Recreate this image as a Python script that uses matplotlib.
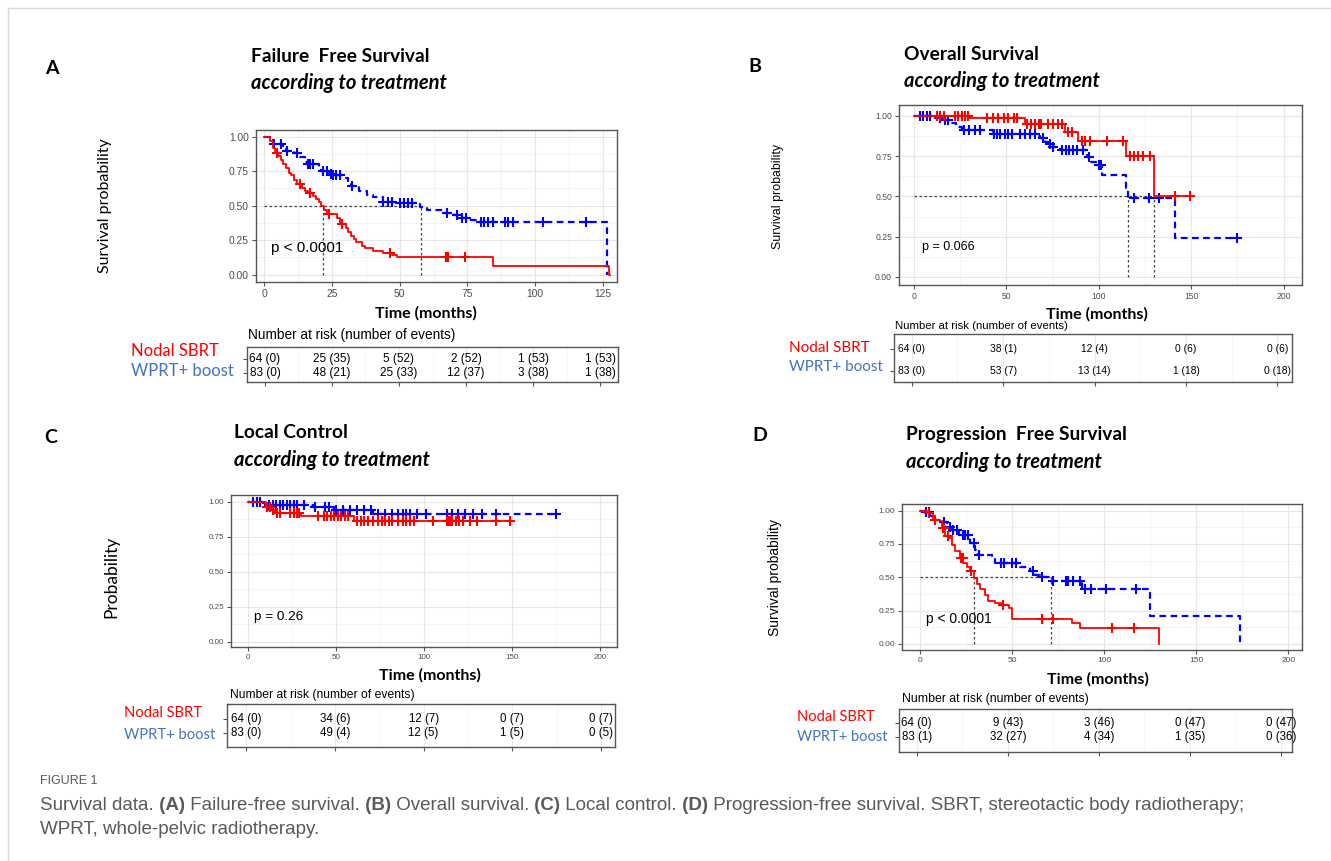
import numpy as np
import matplotlib
matplotlib.use("Agg")
import matplotlib.pyplot as plt
from matplotlib.ticker import MultipleLocator

W, H = 1331, 861

# ---------------- data ----------------
# A  failure free survival
a_red_t = [0, 2, 3, 4, 5, 6, 7, 8, 9, 10, 11, 12, 14, 15, 16, 18, 19, 20, 21, 22,
           23, 27, 28, 30, 31, 32, 33, 34, 36, 37, 40, 44, 47, 49, 84.5, 127.5]
a_red_s = [1.0, 0.97, 0.92, 0.88, 0.86, 0.83, 0.80, 0.77, 0.74, 0.72, 0.69, 0.66, 0.63, 0.61,
           0.59, 0.57, 0.55, 0.53, 0.50, 0.47, 0.44, 0.41, 0.37, 0.34, 0.31, 0.28, 0.26, 0.24,
           0.21, 0.19, 0.17, 0.155, 0.14, 0.125, 0.066, 0.0]
a_red_end = 127.6
a_red_cens = [4.5, 13, 17, 24, 28.5, 46.5, 67, 68, 74]
a_blue_t = [0, 3, 7, 8, 11, 13, 15, 16, 20, 21, 24, 25, 29, 31, 32, 35, 38, 40, 44, 48,
            57.5, 60, 66, 70, 72, 75.5, 79, 126.5]
a_blue_s = [1.0, 0.95, 0.92, 0.90, 0.88, 0.85, 0.82, 0.80, 0.77, 0.75, 0.73, 0.72, 0.70, 0.67,
            0.64, 0.61, 0.58, 0.56, 0.53, 0.52, 0.49, 0.47, 0.445, 0.43, 0.41, 0.395, 0.38, 0.0]
a_blue_end = 126.6
a_blue_cens = [3.5, 6, 8.5, 12, 16, 17, 18, 21.5, 23, 24.5, 25.5, 26.5, 28, 32.5, 44, 45.5, 47,
               50, 51.5, 53, 54.5, 67.5, 71, 73, 74.5, 80, 81, 82.5, 84.5, 89, 90, 92, 103, 119]
a_medians = [21.5, 58]
a_times = [0, 25, 50, 75, 100, 125]
a_risk_red = ["64 (0)", "25 (35)", "5 (52)", "2 (52)", "1 (53)", "1 (53)"]
a_risk_blue = ["83 (0)", "48 (21)", "25 (33)", "12 (37)", "3 (38)", "1 (38)"]

# B  overall survival
b_red_t = [0, 30, 60, 82, 89, 115, 130]
b_red_s = [1.0, 0.985, 0.95, 0.90, 0.845, 0.75, 0.50]
b_red_end = 149.5
b_red_cens = [12.5, 14, 16, 22, 24, 26, 27.5, 29, 39.5, 43, 45.5, 48.5, 51, 54, 56, 61, 63.5,
              65.5, 67.5, 69, 72.5, 75.5, 78, 80, 83.5, 85.5, 91, 92.5, 95.5, 104.5, 113, 117,
              119, 121.5, 124, 127.5, 141, 149.5]
b_blue_t = [0, 11.5, 16, 19.5, 23, 26, 43, 66.5, 68, 71, 73, 75.5, 79, 93.5, 95.5, 99, 101.5,
            114.5, 116, 141.5]
b_blue_s = [1.0, 0.986, 0.975, 0.955, 0.934, 0.91, 0.89, 0.876, 0.86, 0.84, 0.824, 0.81, 0.79,
            0.747, 0.716, 0.696, 0.634, 0.55, 0.49, 0.245]
b_blue_end = 175
b_blue_cens = [3, 5, 7, 8.5, 14, 17, 18.5, 27, 30, 33, 36, 43.5, 45, 46.5, 49, 51, 53, 57.5, 60,
               63, 65.5, 70, 73.5, 75.5, 80, 82.5, 84, 86, 88.5, 91.5, 94.5, 100, 101, 119, 127,
               132.5, 175]
b_medians = [116, 130]
b_times = [0, 50, 100, 150, 200]
b_risk_red = ["64 (0)", "38 (1)", "12 (4)", "0 (6)", "0 (6)"]
b_risk_blue = ["83 (0)", "53 (7)", "13 (14)", "1 (18)", "0 (18)"]

# C  local control
c_red_t = [0, 10, 13.5, 15.5, 30, 60]
c_red_s = [1.0, 0.96, 0.94, 0.917, 0.90, 0.865]
c_red_end = 150
c_red_cens = [11, 12.5, 14, 16.5, 18, 24, 26, 28, 29, 40, 43, 45, 47, 49, 51, 53, 55, 57, 62, 64,
              66, 68, 71, 74, 76, 78, 80, 82, 85, 88, 90, 92, 94, 105, 113, 114, 115, 116, 118,
              120, 122, 126, 130, 141, 149]
c_blue_t = [0, 8.5, 11, 37, 49, 71]
c_blue_s = [1.0, 0.99, 0.976, 0.96, 0.94, 0.915]
c_blue_end = 175
c_blue_cens = [3, 5, 7, 12, 14, 16, 18, 20, 22, 24, 26, 28, 32, 38, 44, 46, 50, 54, 58, 62, 66,
               70, 74, 78, 82, 85, 88, 90, 92, 96, 101, 113, 116, 119, 123, 128, 133, 141, 175]
c_times = [0, 50, 100, 150, 200]
c_risk_red = ["64 (0)", "34 (6)", "12 (7)", "0 (7)", "0 (7)"]
c_risk_blue = ["83 (0)", "49 (4)", "12 (5)", "1 (5)", "0 (5)"]

# D  progression free survival
d_red_t = [0, 3.5, 7, 10.5, 12, 13.5, 15.5, 17, 19, 21.5, 23.5, 25.5, 27, 29, 31, 32.5, 35, 37,
           40.5, 44, 48, 50, 82.5, 87, 129.5]
d_red_s = [1.0, 0.98, 0.93, 0.92, 0.87, 0.81, 0.795, 0.745, 0.695, 0.645, 0.61, 0.58, 0.545,
           0.495, 0.45, 0.41, 0.37, 0.32, 0.305, 0.29, 0.27, 0.19, 0.155, 0.117, 0.0]
d_red_end = 129.6
d_red_cens = [4.5, 8, 12.5, 13, 15, 22, 23, 27.5, 45, 66, 72, 104, 116]
d_blue_t = [0, 2.5, 5.5, 8, 12, 14.5, 17, 21, 27, 30, 31.5, 39, 40.5, 54, 59.5, 62.5, 65, 70.5,
            88, 125, 173.5]
d_blue_s = [1.0, 0.99, 0.957, 0.93, 0.915, 0.88, 0.857, 0.82, 0.757, 0.707, 0.67, 0.644, 0.607,
            0.58, 0.544, 0.52, 0.506, 0.474, 0.414, 0.21, 0.0]
d_blue_end = 173.6
d_blue_cens = [3, 4.5, 13, 16, 18, 20, 23, 24.5, 26, 29, 32, 44, 45.5, 50, 52, 61, 66, 72, 79,
               80.5, 83, 87, 89.5, 93, 101, 117]
d_medians = [29, 71]
d_times = [0, 50, 100, 150, 200]
d_risk_red = ["64 (0)", "9 (43)", "3 (46)", "0 (47)", "0 (47)"]
d_risk_blue = ["83 (1)", "32 (27)", "4 (34)", "1 (35)", "0 (36)"]

groups = ["Nodal SBRT", "WPRT+ boost"]

RED = "#FF0000"
BLUE = "#0000FF"
LBLUE = "#4472C4"
GREY = "#4D4D4D"
SANS = "Liberation Sans"
TITLE = "Lato"

fig = plt.figure(figsize=(W / 100, H / 100), dpi=100)
fig.patch.set_facecolor("white")


def rect(l, t, r, b):
    return [l / W, 1 - b / H, (r - l) / W, (b - t) / H]


def ftext(x, y, s, **kw):
    return fig.text(x / W, 1 - y / H, s, **kw)


def km_axes(box, xlim, ylim, step, fs):
    ax = fig.add_axes(rect(*box))
    ax.set_xlim(xlim)
    ax.set_ylim(ylim)
    ax.xaxis.set_major_locator(MultipleLocator(step))
    ax.xaxis.set_minor_locator(MultipleLocator(step / 2))
    ax.set_yticks([0, 0.25, 0.5, 0.75, 1.0])
    ax.set_yticklabels(["0.00", "0.25", "0.50", "0.75", "1.00"])
    ax.yaxis.set_minor_locator(MultipleLocator(0.125))
    ax.grid(which="major", color="#E6E6E6", lw=0.8)
    ax.grid(which="minor", color="#F0F0F0", lw=0.5)
    ax.set_axisbelow(True)
    for sp in ax.spines.values():
        sp.set_color("#555555")
        sp.set_linewidth(1.0)
    ax.tick_params(which="major", length=3, width=0.8, color="#555555",
                   labelcolor=GREY, labelsize=fs, pad=2)
    ax.tick_params(which="minor", length=0)
    for lab in ax.get_xticklabels() + ax.get_yticklabels():
        lab.set_fontfamily(SANS)
    return ax


def curve(ax, t, s, end, cens, color, dashed):
    xs = list(t) + [end]
    ys = list(s) + [s[-1]]
    ls = (0, (3, 2)) if dashed else "-"
    ax.step(xs, ys, where="post", color=color, lw=1.6 if dashed else 1.3, ls=ls)
    idx = np.searchsorted(t, cens, side="right") - 1
    ax.plot(cens, np.array(s)[idx], ls="none", marker="+", color=color, ms=6.5, mew=1.5)


def medians(ax, meds):
    ax.plot([0, max(meds)], [0.5, 0.5], color="#444444", lw=0.9, ls=(0, (2, 2)))
    for m in meds:
        ax.plot([m, m], [0, 0.5], color="#444444", lw=0.9, ls=(0, (2, 2)))


def risk_table(box, xlim, times, red_vals, blue_vals, rows, fs):
    ax = fig.add_axes(rect(*box))
    ax.set_xlim(xlim)
    ax.set_ylim(0, 1)
    ax.set_xticks(times)
    ax.set_xticklabels([])
    ax.xaxis.set_minor_locator(MultipleLocator((times[1] - times[0]) / 2))
    ax.set_yticks(rows)
    ax.set_yticklabels([])
    ax.grid(which="major", axis="x", color="#EBEBEB", lw=0.8)
    ax.grid(which="minor", axis="x", color="#F3F3F3", lw=0.5)
    ax.set_axisbelow(True)
    for sp in ax.spines.values():
        sp.set_color("#555555")
        sp.set_linewidth(1.0)
    ax.tick_params(which="major", length=3, width=0.8, color="#555555")
    ax.tick_params(which="minor", length=0)
    for x, r, b in zip(times, red_vals, blue_vals):
        ax.text(x, rows[0], r, ha="center", va="center", fontsize=fs, family=SANS)
        ax.text(x, rows[1], b, ha="center", va="center", fontsize=fs, family=SANS)
    return ax


def group_labels(x, y1, y2, fs):
    ftext(x, y1, groups[0], color=RED, fontsize=fs, family=TITLE, va="center")
    ftext(x, y2, groups[1], color=LBLUE, fontsize=fs, family=TITLE, va="center")


def panel_title(letter, lx, ly, title, tx, ty1, ty2):
    ftext(lx, ly, letter, fontsize=14, weight="bold", family=TITLE, va="center")
    ftext(tx, ty1, title, fontsize=13.8, weight="bold", family=TITLE, va="center")
    ftext(tx, ty2, "according to treatment", fontsize=14.5, weight="bold", style="italic",
          family=TITLE, va="center")


# ---------------- panel A ----------------
panel_title("A", 45, 69, "Failure  Free Survival", 251, 57, 83)
ax = km_axes((256, 130, 617, 282), (-3.1, 130.3), (-0.053, 1.049), 25, 7.4)
medians(ax, a_medians)
curve(ax, a_blue_t, a_blue_s, a_blue_end, a_blue_cens, BLUE, True)
curve(ax, a_red_t, a_red_s, a_red_end, a_red_cens, RED, False)
ax.text(2.4, 0.19, "p < 0.0001", fontsize=11, family=SANS, va="center")
ftext(105, 206, "Survival probability", rotation=90, fontsize=11.5, family=TITLE,
      ha="center", va="center")
ftext(426, 313, "Time (months)", fontsize=11.5, weight="bold", family=TITLE,
      ha="center", va="center")
ftext(248, 335, "Number at risk (number of events)", fontsize=9.8, family=SANS, va="center")
risk_table((247, 347, 618, 382), (-6.7, 131.7), a_times, a_risk_red, a_risk_blue,
           [0.65, 0.25], 8.5)
group_labels(131, 351, 371, 12)

# ---------------- panel B ----------------
panel_title("B", 748, 67, "Overall Survival", 904, 55, 81)
ax = km_axes((899, 105, 1302, 285), (-8.1, 210), (-0.05, 1.068), 50, 6.2)
medians(ax, b_medians)
curve(ax, b_blue_t, b_blue_s, b_blue_end, b_blue_cens, BLUE, True)
curve(ax, b_red_t, b_red_s, b_red_end, b_red_cens, RED, False)
ax.text(4.2, 0.188, "p = 0.066", fontsize=9, family=SANS, va="center")
ftext(778, 196, "Survival probability", rotation=90, fontsize=8.9, family=SANS,
      ha="center", va="center")
ftext(1097, 314, "Time (months)", fontsize=11.5, weight="bold", family=TITLE,
      ha="center", va="center")
ftext(895, 326, "Number at risk (number of events)", fontsize=8.2, family=SANS, va="center")
risk_table((894, 334, 1292, 382), (-9.7, 208), b_times, b_risk_red, b_risk_blue,
           [0.69, 0.23], 7.4)
group_labels(789, 348, 367, 11)

# ---------------- panel C ----------------
panel_title("C", 44, 437, "Local Control", 234, 433, 460)
ax = km_axes((231, 495, 617, 647), (-9.6, 209.5), (-0.036, 1.048), 50, 5.8)
curve(ax, c_blue_t, c_blue_s, c_blue_end, c_blue_cens, BLUE, True)
curve(ax, c_red_t, c_red_s, c_red_end, c_red_cens, RED, False)
ax.text(3.2, 0.18, "p = 0.26", fontsize=9.7, family=SANS, va="center")
ftext(111, 577, "Probability", rotation=90, fontsize=12.5, family=TITLE,
      ha="center", va="center")
ftext(430, 675, "Time (months)", fontsize=11.5, weight="bold", family=TITLE,
      ha="center", va="center")
ftext(230, 695, "Number at risk (number of events)", fontsize=8.7, family=SANS, va="center")
risk_table((227, 704, 615, 747), (-10.9, 208), c_times, c_risk_red, c_risk_blue,
           [0.64, 0.32], 8.3)
group_labels(124, 713, 735, 10.6)

# ---------------- panel D ----------------
panel_title("D", 752, 436, "Progression  Free Survival", 906, 435, 462)
ax = km_axes((902, 504, 1302, 650), (-9.9, 207.4), (-0.045, 1.05), 50, 6)
medians(ax, d_medians)
curve(ax, d_blue_t, d_blue_s, d_blue_end, d_blue_cens, BLUE, True)
curve(ax, d_red_t, d_red_s, d_red_end, d_red_cens, RED, False)
ax.text(3.3, 0.188, "p < 0.0001", fontsize=10, family=SANS, va="center")
ftext(775, 577, "Survival probability", rotation=90, fontsize=10, family=SANS,
      ha="center", va="center")
ftext(1098, 679, "Time (months)", fontsize=11.5, weight="bold", family=TITLE,
      ha="center", va="center")
ftext(902, 699, "Number at risk (number of events)", fontsize=8.8, family=SANS, va="center")
risk_table((899, 709, 1292, 752), (-9.7, 206), d_times, d_risk_red, d_risk_blue,
           [0.68, 0.34], 8.3)
group_labels(797, 717, 737, 10.5)

# ---------------- page frame and caption ----------------
over = fig.add_axes([0, 0, 1, 1], zorder=-5)
over.set_xlim(0, W)
over.set_ylim(H, 0)
over.axis("off")
over.plot([8, W], [8, 8], color="#D9D9D9", lw=1)
over.plot([8, 8], [8, H], color="#D9D9D9", lw=1)

CAP = "Liberation Sans"
CAPC = "#595959"
over.text(40, 781, "FIGURE 1", fontsize=9, family=CAP, color=CAPC, va="center")
line1 = [("Survival data.", "normal"), (" (A)", "bold"), (" Failure-free survival.", "normal"),
         (" (B)", "bold"), (" Overall survival.", "normal"), (" (C)", "bold"),
         (" Local control.", "normal"), (" (D)", "bold"),
         (" Progression-free survival. SBRT, stereotactic body radiotherapy;", "normal")]
prev = over.text(40, 806, line1[0][0], fontsize=13.5, family=CAP, color=CAPC, va="center")
for seg, wt in line1[1:]:
    prev = over.annotate(seg, xy=(1, 0), xycoords=prev, va="bottom", ha="left",
                         fontsize=13.5, family=CAP, color=CAPC, weight=wt)
over.text(40, 830, "WPRT, whole-pelvic radiotherapy.", fontsize=13.5, family=CAP, color=CAPC,
          va="center")

fig.savefig("out.png", dpi=100)
